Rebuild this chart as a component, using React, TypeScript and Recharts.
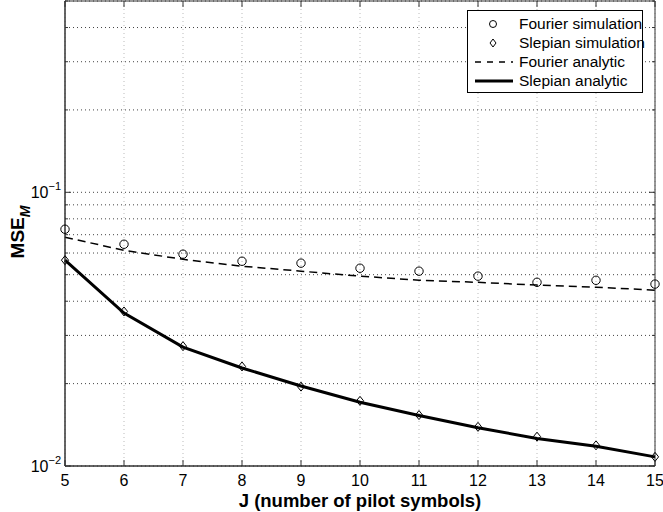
import {
  LineChart,
  Line,
  XAxis,
  YAxis,
  CartesianGrid,
  ReferenceArea,
} from "recharts";

const pilotSymbols = [5, 6, 7, 8, 9, 10, 11, 12, 13, 14, 15];
const fourierSimulation = [0.0733, 0.0646, 0.0594, 0.056, 0.0551, 0.0528, 0.0515, 0.0494, 0.0469, 0.0477, 0.0462];
const slepianSimulation = [0.0565, 0.0367, 0.0274, 0.0231, 0.0195, 0.0173, 0.01535, 0.0139, 0.0128, 0.0119, 0.0108];
const fourierAnalytic = [0.0685, 0.0614, 0.0569, 0.0537, 0.0515, 0.0494, 0.0477, 0.0469, 0.0458, 0.045, 0.0439];
const slepianAnalytic = [0.0565, 0.0362, 0.0272, 0.0228, 0.0196, 0.0171, 0.0153, 0.0138, 0.0126, 0.0118, 0.0108];

const yTicks = [0.01, 0.02, 0.03, 0.04, 0.05, 0.06, 0.07, 0.08, 0.09, 0.1, 0.2, 0.3, 0.4, 0.5];
const xTicks = [5, 6, 7, 8, 9, 10, 11, 12, 13, 14, 15];

const W = 663;
const H = 512;
const PL = 65; // plot left
const PR = 655; // plot right
const PT = 1;
const PB = 466;
const FONT = "'Liberation Sans', Arial, Helvetica, sans-serif";

const data = pilotSymbols.map((j, i) => ({
  j,
  fourierSim: fourierSimulation[i],
  slepianSim: slepianSimulation[i],
  fourierAn: fourierAnalytic[i],
  slepianAn: slepianAnalytic[i],
}));

function YTick({ y, payload }: any) {
  const v = payload.value;
  const lg = Math.log10(v);
  const major = Math.abs(lg - Math.round(lg)) < 1e-6;
  const len = major ? 6 : 3;
  return (
    <g>
      <line x1={PL} x2={PL + len} y1={y} y2={y} stroke="#333" />
      <line x1={PR} x2={PR - len} y1={y} y2={y} stroke="#333" />
      {major && (
        <text x={PL - 4} y={y + 6} textAnchor="end" fontFamily={FONT} fontSize={16} fill="#000">
          10
          <tspan dy={-8} fontSize={11}>
            {"\u2212" + Math.abs(Math.round(lg))}
          </tspan>
        </text>
      )}
    </g>
  );
}

function XTick({ x, payload }: any) {
  return (
    <g>
      <line x1={x} x2={x} y1={PB} y2={PB - 6} stroke="#333" />
      <line x1={x} x2={x} y1={PT} y2={PT + 6} stroke="#333" />
      <text x={x} y={PB + 20} textAnchor="middle" fontFamily={FONT} fontSize={16} fill="#000">
        {payload.value}
      </text>
    </g>
  );
}

function Circle(props: any) {
  const { cx, cy, index } = props;
  return <circle key={"c" + index} cx={cx} cy={cy} r={4.2} fill="none" stroke="#000" strokeWidth={1} />;
}

function Diamond(props: any) {
  const { cx, cy, index } = props;
  const s = 4.5;
  return (
    <polygon
      key={"d" + index}
      points={`${cx},${cy - s} ${cx + s * 0.8},${cy} ${cx},${cy + s} ${cx - s * 0.8},${cy}`}
      fill="none"
      stroke="#000"
      strokeWidth={1}
    />
  );
}

function LegendBox() {
  const rows = [
    { name: "Fourier simulation", icon: <circle cx={25} cy={9} r={3.5} fill="none" stroke="#000" /> },
    { name: "Slepian simulation", icon: <polygon points="25,5 28,9 25,13 22,9" fill="none" stroke="#000" /> },
    { name: "Fourier analytic", icon: <line x1={7} x2={45} y1={9} y2={9} stroke="#000" strokeWidth={1.3} strokeDasharray="6 6" /> },
    { name: "Slepian analytic", icon: <line x1={7} x2={45} y1={9} y2={9} stroke="#000" strokeWidth={3} /> },
  ];
  return (
    <div
      style={{
        position: "absolute",
        top: 10,
        left: 467,
        border: "1px solid #000",
        background: "#fff",
        width: 176,
        padding: "3px 0 2px 0",
        fontFamily: FONT,
        fontSize: 15.5,
        boxSizing: "border-box",
      }}
    >
      {rows.map((r) => (
        <div key={r.name} style={{ display: "flex", alignItems: "center", height: 19 }}>
          <svg width={51} height={18} style={{ flex: "none" }}>{r.icon}</svg>
          <span style={{ whiteSpace: "nowrap" }}>{r.name}</span>
        </div>
      ))}
    </div>
  );
}

export default function App() {
  return (
    <div style={{ position: "relative", width: W, height: H, background: "#fff" }}>
      <style>{"body{margin:0}"}</style>
      <LineChart width={W} height={H} data={data} margin={{ top: PT, right: W - PR, bottom: 0, left: 0 }}>
        <CartesianGrid horizontal={false} stroke="#bbb" strokeDasharray="1 3" />
        <CartesianGrid vertical={false} stroke="#444" strokeDasharray="1 3" />
        <XAxis
          dataKey="j"
          type="number"
          domain={[5, 15]}
          ticks={xTicks}
          interval={0}
          height={H - PB}
          axisLine={{ stroke: "#333" }}
          tickLine={false}
          tick={<XTick />}
          label={{
            value: "J (number of pilot symbols)",
            position: "insideBottom",
            offset: 5,
            style: { fontFamily: FONT, fontSize: 18.5, fontWeight: "bold", fill: "#000" },
          }}
        />
        <YAxis
          type="number"
          scale="log"
          domain={[0.01, 0.5]}
          allowDataOverflow
          ticks={yTicks}
          interval={0}
          width={PL}
          axisLine={{ stroke: "#333" }}
          tickLine={false}
          tick={<YTick />}
          label={{
            position: "insideLeft",
            content: () => (
              <text
                transform="translate(24,232) rotate(-90)"
                textAnchor="middle"
                fontFamily={FONT}
                fontSize={19}
                fontWeight="bold"
                fill="#000"
              >
                MSE
                <tspan dy={6} fontSize={14} fontStyle="italic">
                  M
                </tspan>
              </text>
            ),
          }}
        />
        <ReferenceArea x1={5} x2={15} y1={0.01} y2={0.5} fill="none" stroke="#333" ifOverflow="visible" />
        <Line
          dataKey="fourierAn"
          stroke="#000"
          strokeWidth={1.5}
          strokeDasharray="8 5"
          dot={false}
          activeDot={false}
          isAnimationActive={false}
        />
        <Line
          dataKey="slepianAn"
          stroke="#000"
          strokeWidth={3}
          dot={false}
          activeDot={false}
          isAnimationActive={false}
        />
        <Line
          dataKey="fourierSim"
          stroke="none"
          dot={Circle}
          activeDot={false}
          isAnimationActive={false}
        />
        <Line
          dataKey="slepianSim"
          stroke="none"
          dot={Diamond}
          activeDot={false}
          isAnimationActive={false}
        />
      </LineChart>
      <LegendBox />
    </div>
  );
}
